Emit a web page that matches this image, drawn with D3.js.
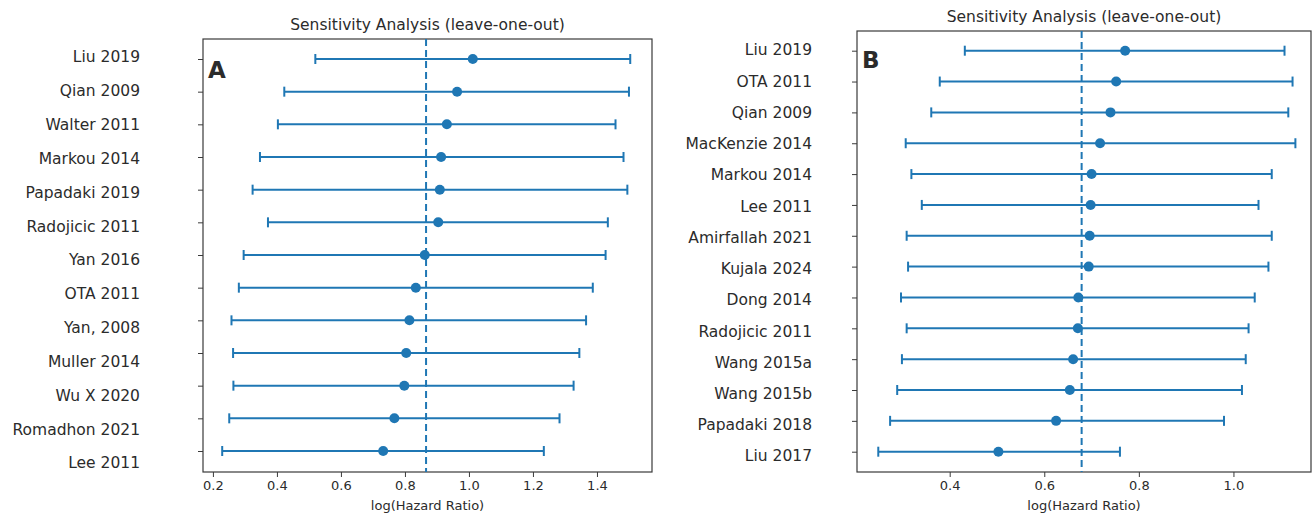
<!DOCTYPE html>
<html lang="en">
<head>
<meta charset="UTF-8">
<title>Sensitivity Analysis (leave-one-out)</title>
<style>
  body { margin: 0; background: #fff; }
  text { font-family: "DejaVu Sans", sans-serif; fill: #2b2b2b; }
</style>
</head>
<body>
<script src="https://cdnjs.cloudflare.com/ajax/libs/d3/7.8.5/d3.min.js"></script>
<script>
// ---- panel A data ----
const studiesA = ['Liu 2019', 'Qian 2009', 'Walter 2011', 'Markou 2014', 'Papadaki 2019',
    'Radojicic 2011', 'Yan 2016', 'OTA 2011', 'Yan, 2008', 'Muller 2014', 'Wu X 2020',
    'Romadhon 2021', 'Lee 2011'];
const estA  = [1.012, 0.963, 0.931, 0.913, 0.909, 0.904, 0.862, 0.834, 0.814, 0.804, 0.798, 0.767, 0.732];
const lowA  = [0.520, 0.423, 0.403, 0.347, 0.324, 0.372, 0.296, 0.281, 0.258, 0.263, 0.264, 0.251, 0.229];
const highA = [1.504, 1.500, 1.458, 1.483, 1.495, 1.434, 1.427, 1.387, 1.366, 1.345, 1.327, 1.283, 1.234];
const pooledA = 0.866;
const ticksA = [0.2, 0.4, 0.6, 0.8, 1.0, 1.2, 1.4];

// ---- panel B data ----
const studiesB = ['Liu 2019', 'OTA 2011', 'Qian 2009', 'MacKenzie 2014', 'Markou 2014', 'Lee 2011',
    'Amirfallah 2021', 'Kujala 2024', 'Dong 2014', 'Radojicic 2011', 'Wang 2015a', 'Wang 2015b',
    'Papadaki 2018', 'Liu 2017'];
const estB  = [0.771, 0.752, 0.740, 0.718, 0.700, 0.698, 0.696, 0.694, 0.672, 0.671, 0.661, 0.654, 0.625, 0.503];
const lowB  = [0.432, 0.379, 0.361, 0.307, 0.319, 0.341, 0.309, 0.312, 0.297, 0.309, 0.299, 0.289, 0.274, 0.249];
const highB = [1.108, 1.125, 1.116, 1.131, 1.081, 1.053, 1.081, 1.074, 1.045, 1.032, 1.026, 1.018, 0.980, 0.760];
const pooledB = 0.679;
const ticksB = [0.4, 0.6, 0.8, 1.0];

const title = 'Sensitivity Analysis (leave-one-out)';
const xLabel = 'log(Hazard Ratio)';
const blue = '#1f77b4';

const svg = d3.select('body').append('svg')
    .attr('width', 1315)
    .attr('height', 515);

function drawPanel(p) {
    const rows = p.studies.map((s, i) => ({ name: s, est: p.est[i], low: p.low[i], high: p.high[i] }));

    const x = d3.scaleLinear().domain(p.xDomain).range([p.left, p.right]);
    const y = d3.scalePoint().domain(p.studies).range([p.firstY, p.lastY]);
    // the study names sit a little off the tick marks in the original
    const yLab = d3.scalePoint().domain(p.studies).range([p.labFirstY, p.labLastY]);

    const g = svg.append('g');

    // frame
    g.append('rect')
        .attr('x', p.left).attr('y', p.top)
        .attr('width', p.right - p.left).attr('height', p.bottom - p.top)
        .attr('fill', 'none').attr('stroke', '#3a3a3a').attr('stroke-width', 1.2);

    // y tick marks
    const yAx = g.append('g')
        .attr('transform', `translate(${p.left},0)`)
        .call(d3.axisLeft(y).tickSize(5).tickFormat(''));
    yAx.select('.domain').remove();
    yAx.selectAll('.tick line').attr('stroke', '#3a3a3a');

    // study names
    const labAx = g.append('g')
        .attr('transform', `translate(${p.labRight},0)`)
        .call(d3.axisLeft(yLab).tickSize(0).tickPadding(0));
    labAx.select('.domain').remove();
    labAx.selectAll('text').attr('font-size', 15.5).attr('fill', '#2b2b2b')
        .attr('font-family', '"DejaVu Sans", sans-serif');

    // x axis
    const xAx = g.append('g')
        .attr('transform', `translate(0,${p.bottom})`)
        .call(d3.axisBottom(x).tickValues(p.ticks).tickSize(5).tickPadding(4).tickFormat(d3.format('.1f')));
    xAx.select('.domain').remove();
    xAx.selectAll('.tick line').attr('stroke', '#3a3a3a');
    xAx.selectAll('text').attr('font-size', 13).attr('fill', '#2b2b2b')
        .attr('font-family', '"DejaVu Sans", sans-serif');

    // pooled estimate
    g.append('line')
        .attr('x1', x(p.pooled)).attr('x2', x(p.pooled))
        .attr('y1', p.top).attr('y2', p.bottom)
        .attr('stroke', blue).attr('stroke-width', 2)
        .attr('stroke-dasharray', '7,4');

    // error bars
    const bars = g.selectAll('.bar').data(rows).enter().append('g').attr('class', 'bar');
    bars.append('line')
        .attr('x1', d => x(d.low)).attr('x2', d => x(d.high))
        .attr('y1', d => y(d.name)).attr('y2', d => y(d.name))
        .attr('stroke', blue).attr('stroke-width', 2);
    bars.append('line')
        .attr('x1', d => x(d.low)).attr('x2', d => x(d.low))
        .attr('y1', d => y(d.name) - 5).attr('y2', d => y(d.name) + 5)
        .attr('stroke', blue).attr('stroke-width', 2);
    bars.append('line')
        .attr('x1', d => x(d.high)).attr('x2', d => x(d.high))
        .attr('y1', d => y(d.name) - 5).attr('y2', d => y(d.name) + 5)
        .attr('stroke', blue).attr('stroke-width', 2);
    bars.append('circle')
        .attr('cx', d => x(d.est)).attr('cy', d => y(d.name))
        .attr('r', 5).attr('fill', blue);

    // title, axis label and panel letter
    g.append('text')
        .attr('x', (p.left + p.right) / 2).attr('y', p.titleY)
        .attr('text-anchor', 'middle').attr('font-size', 15.5)
        .text(title);
    g.append('text')
        .attr('x', (p.left + p.right) / 2).attr('y', 510)
        .attr('text-anchor', 'middle').attr('font-size', 13)
        .text(xLabel);
    g.append('text')
        .attr('x', p.left + 5).attr('y', p.letterY)
        .attr('font-size', 23).attr('font-weight', 'bold').attr('fill', '#000')
        .text(p.letter);
}

drawPanel({
    studies: studiesA, est: estA, low: lowA, high: highA, pooled: pooledA, ticks: ticksA,
    xDomain: [0.169, 1.572], left: 203, right: 652, top: 39, bottom: 472,
    firstY: 59, lastY: 451, labFirstY: 57, labLastY: 463, labRight: 140,
    titleY: 30, letter: 'A', letterY: 78
});

drawPanel({
    studies: studiesB, est: estB, low: lowB, high: highB, pooled: pooledB, ticks: ticksB,
    xDomain: [0.204, 1.164], left: 857, right: 1311, top: 31, bottom: 472,
    firstY: 50.7, lastY: 451.7, labFirstY: 50, labLastY: 456, labRight: 812,
    titleY: 22, letter: 'B', letterY: 68
});
</script>
</body>
</html>
